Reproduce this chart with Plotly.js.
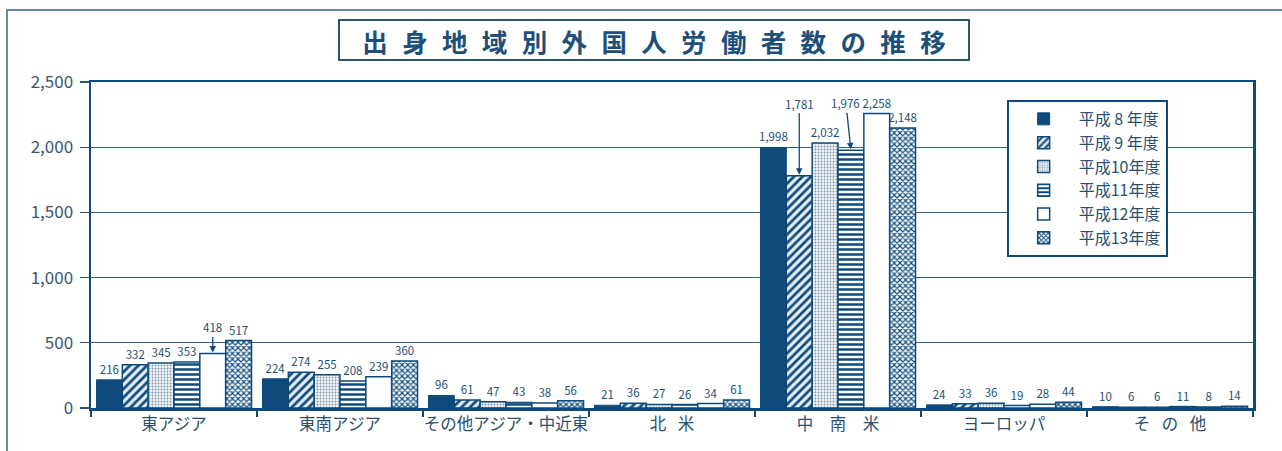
<!DOCTYPE html>
<html>
<head>
<meta charset="utf-8">
<script src="https://cdn.plot.ly/plotly-3.0.1.min.js"></script>
<style>html,body{margin:0;padding:0;background:#fff;}#chart{width:1282px;height:451px;}</style>
</head>
<body>
<div id="chart"></div>
<script>
// ---- data ----
const categories = ["東アジア", "東南アジア", "その他アジア・中近東", "北\u2002\u2009米", "中\u3000南\u3000米", "ヨーロッパ", "そ\u2002\u2009の\u2002\u2009他"];
const seriesNames = ["平成 8 年度", "平成 9 年度", "平成10年度", "平成11年度", "平成12年度", "平成13年度"];
const h8  = [216, 224, 96, 21, 1998, 24, 10];
const h9  = [332, 274, 61, 36, 1781, 33, 6];
const h10 = [345, 255, 47, 27, 2032, 36, 6];
const h11 = [353, 208, 43, 26, 1976, 19, 11];
const h12 = [418, 239, 38, 34, 2258, 28, 8];
const h13 = [517, 360, 56, 61, 2148, 44, 14];
const titleText = "出身地域別外国人労働者数の推移";
// labels drawn with arrows: [seriesIndex, categoryIndex, arrow dx px, arrow dy px]
const arrowLabels = [[4, 0, 0, -26], [1, 4, 0, -72], [3, 4, -5, -47]];

// ---- style ----
const BLUE = "#0e4a7b";
const TEXT = "#1d4f78";
const FONT = "'Liberation Sans Narrow', 'Noto Sans CJK JP', sans-serif";
const CJK = "'Noto Sans CJK JP', sans-serif";
const BARGAP = 0.066;

const allSeries = [h8, h9, h10, h11, h12, h13];
const markers = [
  {color: BLUE, line: {color: BLUE, width: 1}},
  {color: "#dfeaf3", line: {color: BLUE, width: 1.5}, pattern: {shape: "/", fgcolor: BLUE, bgcolor: "#e6eef5", size: 6, solidity: 0.45}},
  {color: "#e9eef3", line: {color: BLUE, width: 1.5}, pattern: {shape: ".", fgcolor: "#7d97b0", bgcolor: "#f1f4f7", size: 3, solidity: 0.3}},
  {color: "#ffffff", line: {color: BLUE, width: 1.5}, pattern: {shape: "-", fgcolor: BLUE, bgcolor: "#ffffff", size: 5, solidity: 0.5}},
  {color: "#ffffff", line: {color: BLUE, width: 1.5}},
  {color: "#ffffff", line: {color: BLUE, width: 1.5}, pattern: {shape: "x", fgcolor: BLUE, bgcolor: "#ffffff", size: 4, solidity: 0.5}}
];

const fmt = v => v.toLocaleString("en-US");

const traces = allSeries.map((vals, k) => {
  const txt = vals.map((v, i) => arrowLabels.some(a => a[0] === k && a[1] === i) ? "" : fmt(v));
  return {
    type: "bar",
    name: seriesNames[k],
    x: categories,
    y: vals,
    marker: markers[k],
    text: txt,
    textposition: "outside",
    textfont: {family: FONT, size: 11.5, color: TEXT},
    constraintext: "none",
    cliponaxis: false,
    hoverinfo: "skip"
  };
});

const nS = allSeries.length;
const w = (1 - BARGAP) / nS;
const annotations = arrowLabels.map(([k, i, ax, ay]) => ({
  x: i - (1 - BARGAP) / 2 + w * (k + 0.5),
  y: allSeries[k][i],
  xref: "x", yref: "y",
  text: fmt(allSeries[k][i]),
  showarrow: true, arrowhead: 2, arrowsize: 1, arrowwidth: 1.3, arrowcolor: BLUE,
  ax: ax, ay: ay, standoff: 1,
  font: {family: FONT, size: 11.5, color: TEXT}
}));

// boxed title
const spaced = Array.from(titleText).join("\u2002\u200A");
annotations.push({
  xref: "paper", yref: "paper", x: 0.4845, y: 1.128,
  xanchor: "center", yanchor: "middle",
  text: "<b>" + spaced + "</b>", showarrow: false,
  font: {family: CJK, size: 25.5, color: TEXT},
  bordercolor: "#2a5778", borderwidth: 2, borderpad: 3,
  width: 622, height: 32
});

const layout = {
  width: 1282, height: 451,
  margin: {l: 91, r: 29, t: 82, b: 43},
  paper_bgcolor: "#ffffff", plot_bgcolor: "#ffffff",
  barmode: "group", bargap: BARGAP, bargroupgap: 0,
  font: {family: FONT, color: TEXT},
  xaxis: {
    type: "category",
    showline: true, linecolor: BLUE, linewidth: 2.5, mirror: true,
    ticks: "outside", tickson: "boundaries", ticklen: 6, tickwidth: 1.5, tickcolor: BLUE,
    tickangle: 0, automargin: false,
    tickfont: {family: CJK, size: 16.5, color: "#2b4f6e"},
    showgrid: false, fixedrange: true
  },
  yaxis: {
    range: [0, 2500], tickvals: [0, 500, 1000, 1500, 2000, 2500],
    tickformat: ",d",
    showline: true, linecolor: BLUE, linewidth: 2.5, mirror: true,
    ticks: "outside", ticklen: 9, tickwidth: 1.2, tickcolor: "#2a5778",
    tickfont: {family: FONT, size: 17, color: "#3a5670"},
    ticklabelstandoff: 3, automargin: false,
    showgrid: true, gridcolor: "#2f6189", gridwidth: 1.2,
    zeroline: false, fixedrange: true
  },
  showlegend: true,
  legend: {
    x: 0.788, y: 0.945, xanchor: "left", yanchor: "top",
    bgcolor: "#ffffff", bordercolor: BLUE, borderwidth: 2,
    font: {family: CJK, size: 16, color: "#2b4f6e"},
    itemwidth: 60, tracegroupgap: 0, itemclick: false, itemdoubleclick: false
  },
  shapes: [{
    type: "rect", xref: "paper", yref: "paper",
    x0: -0.0723, x1: 1.05, y0: -0.2, y1: 1.2209,
    line: {color: "#6d89a3", width: 2}, layer: "below"
  }],
  annotations: annotations
};

Plotly.newPlot("chart", traces, layout, {displayModeBar: false, staticPlot: true});
</script>
</body>
</html>
